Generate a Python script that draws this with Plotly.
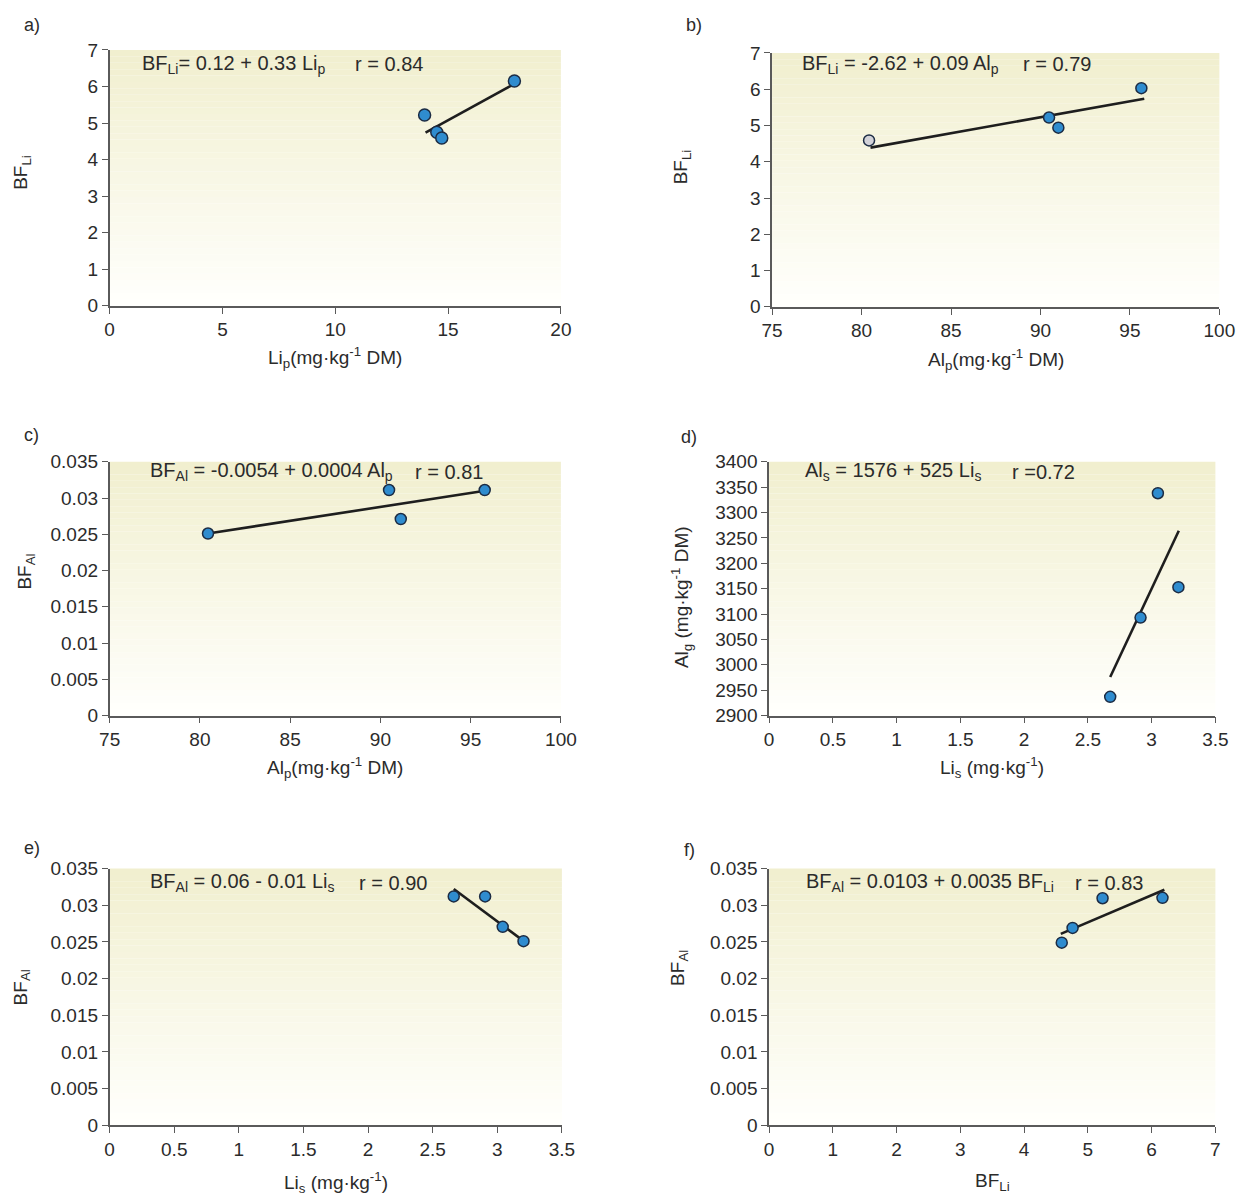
import plotly.graph_objects as go

W, H = 1242, 1196

# ---------------- data ----------------
# a) BF_Li vs Li_p
a_x = [13.96, 14.5, 14.72, 17.94]
a_y = [5.22, 4.75, 4.59, 6.15]
a_line_x = [14.0, 17.9]
a_line_y = [4.74, 6.06]

# b) BF_Li vs Al_p
b_x = [80.42, 90.48, 91.0, 95.64]
b_y = [4.59, 5.22, 4.94, 6.03]
b_line_x = [80.5, 95.8]
b_line_y = [4.39, 5.74]

# c) BF_Al vs Al_p
c_x = [80.45, 90.48, 91.13, 95.78]
c_y = [0.0251, 0.0311, 0.0271, 0.0311]
c_line_x = [80.45, 95.8]
c_line_y = [0.0251, 0.0310]

# d) Al_s vs Li_s
d_x = [2.675, 2.913, 3.049, 3.21]
d_y = [2937, 3093, 3338, 3153]
d_line_x = [2.675, 3.213]
d_line_y = [2976, 3264]

# e) BF_Al vs Li_s
e_x = [2.663, 2.906, 3.042, 3.203]
e_y = [0.0312, 0.0312, 0.02705, 0.0251]
e_line_x = [2.663, 3.22]
e_line_y = [0.0322, 0.0249]

# f) BF_Al vs BF_Li
f_x = [4.59, 4.76, 5.23, 6.17]
f_y = [0.0249, 0.0269, 0.03095, 0.031]
f_line_x = [4.575, 6.2]
f_line_y = [0.0261, 0.0321]

# ---------------- layout helpers ----------------
# reference pixel -> figure pixel (empirical correction), then -> paper fraction
SX, OX = 0.982, 9.0
SY, OY = 0.983, 10.0

def px(v):
    return ((v - OX) / SX) / W

def py(v):
    return 1 - ((v - OY) / SY) / H

panels = [
    dict(key="a", x=a_x, y=a_y, lx=a_line_x, ly=a_line_y, xr=[0, 20], yr=[0, 7],
         xp=(108, 561), yp=(50, 306), dtx=5, dty=1,
         eq="BF<sub>Li</sub>= 0.12 + 0.33 Li<sub>p</sub>", r="r = 0.84", eqx=0.068, rx=0.54, eqy=0.945,
         lab=(30, 25), yt="BF<sub>Li</sub>", ytp=(20, 172),
         xt="Li<sub>p</sub>(mg·kg<sup>-1</sup> DM)", xty=358, msize=12),
    dict(key="b", x=b_x, y=b_y, lx=b_line_x, ly=b_line_y, xr=[75, 100], yr=[0, 7],
         xp=(773, 1222), yp=(53, 307), dtx=5, dty=1,
         eq="BF<sub>Li</sub> = -2.62 + 0.09 Al<sub>p</sub>", r="r = 0.79", eqx=0.063, rx=0.556, eqy=0.955,
         lab=(695, 25), yt="BF<sub>Li</sub>", ytp=(682, 167),
         xt="Al<sub>p</sub>(mg·kg<sup>-1</sup> DM)", xty=360, msize=11),
    dict(key="c", x=c_x, y=c_y, lx=c_line_x, ly=c_line_y, xr=[75, 100], yr=[0, 0.035],
         xp=(108, 561), yp=(462, 716), dtx=5, dty=0.005,
         eq="BF<sub>Al</sub> = -0.0054 + 0.0004 Al<sub>p</sub>", r="r = 0.81", eqx=0.086, rx=0.672, eqy=0.96,
         lab=(30, 435), yt="BF<sub>Al</sub>", ytp=(24, 572),
         xt="Al<sub>p</sub>(mg·kg<sup>-1</sup> DM)", xty=768, msize=11),
    dict(key="d", x=d_x, y=d_y, lx=d_line_x, ly=d_line_y, xr=[0, 3.5], yr=[2900, 3400],
         xp=(770, 1218), yp=(462, 716), dtx=0.5, dty=50,
         eq="Al<sub>s</sub> = 1576 + 525 Li<sub>s</sub>", r="r =0.72", eqx=0.077, rx=0.54, eqy=0.96,
         lab=(690, 437), yt="Al<sub>g</sub> (mg·kg<sup>-1</sup> DM)", ytp=(682, 597),
         xt="Li<sub>s</sub> (mg·kg<sup>-1</sup>)", xty=768, msize=11),
    dict(key="e", x=e_x, y=e_y, lx=e_line_x, ly=e_line_y, xr=[0, 3.5], yr=[0, 0.035],
         xp=(108, 562), yp=(869, 1126), dtx=0.5, dty=0.005,
         eq="BF<sub>Al</sub> = 0.06 - 0.01 Li<sub>s</sub>", r="r = 0.90", eqx=0.084, rx=0.547, eqy=0.945,
         lab=(30, 848), yt="BF<sub>Al</sub>", ytp=(20, 988),
         xt="Li<sub>s</sub> (mg·kg<sup>-1</sup>)", xty=1183, msize=11),
    dict(key="f", x=f_x, y=f_y, lx=f_line_x, ly=f_line_y, xr=[0, 7], yr=[0, 0.035],
         xp=(770, 1218), yp=(869, 1126), dtx=1, dty=0.005,
         eq="BF<sub>Al</sub> = 0.0103 + 0.0035 BF<sub>Li</sub>", r="r = 0.83", eqx=0.078, rx=0.68, eqy=0.945,
         lab=(690, 850), yt="BF<sub>Al</sub>", ytp=(680, 968),
         xt="BF<sub>Li</sub>", xty=1183, msize=11),
]

FONT = "Liberation Sans, Arial, sans-serif"
TXT = "#2b2b2b"
AXC = "#5a5a5a"
BLUE = "#2f8ccf"
EDGE = "#1c2c44"
GRAY = "#d2d2d8"
TICKSZ = 19
EQSZ = 20
TITSZ = 19

fig = go.Figure()
layout = dict(
    width=W, height=H, autosize=False,
    margin=dict(l=0, r=0, t=0, b=0),
    paper_bgcolor="white", plot_bgcolor="white",
    showlegend=False,
    font=dict(family=FONT, color=TXT, size=TICKSZ),
)
shapes = []
annotations = []

TOP = (241, 239, 207)
BOT = (255, 255, 252)
NSTRIP = 40

for i, p in enumerate(panels):
    n = i + 1
    xa = "x" if n == 1 else f"x{n}"
    ya = "y" if n == 1 else f"y{n}"
    xkey = "xaxis" if n == 1 else f"xaxis{n}"
    ykey = "yaxis" if n == 1 else f"yaxis{n}"

    common = dict(showgrid=False, zeroline=False, showline=True, linecolor=AXC, linewidth=1.6,
                  ticks="outside", ticklen=6, tickwidth=1.4, tickcolor=AXC,
                  tickfont=dict(family=FONT, size=TICKSZ, color=TXT), fixedrange=True)
    layout[xkey] = dict(common, domain=[px(p["xp"][0]), px(p["xp"][1])], range=p["xr"],
                        anchor=ya, dtick=p["dtx"], tick0=p["xr"][0])
    layout[ykey] = dict(common, domain=[py(p["yp"][1]), py(p["yp"][0])], range=p["yr"],
                        anchor=xa, dtick=p["dty"], tick0=p["yr"][0])

    # gradient background
    for k in range(NSTRIP):
        t = k / (NSTRIP - 1)
        c = tuple(int(round(BOT[j] + (TOP[j] - BOT[j]) * t)) for j in range(3))
        shapes.append(dict(type="rect", xref=f"{xa} domain", yref=f"{ya} domain",
                           x0=0, x1=1, y0=k / NSTRIP, y1=(k + 1) / NSTRIP,
                           fillcolor=f"rgb{c}", line=dict(width=0), layer="below"))

    # trend line
    fig.add_trace(go.Scatter(x=p["lx"], y=p["ly"], mode="lines", xaxis=xa, yaxis=ya,
                             line=dict(color="#1e1e1e", width=2.6), hoverinfo="skip"))
    # points
    colors = [BLUE] * len(p["x"])
    if p["key"] == "b":
        colors[0] = GRAY
    fig.add_trace(go.Scatter(x=p["x"], y=p["y"], mode="markers", xaxis=xa, yaxis=ya,
                             marker=dict(size=p["msize"], color=colors,
                                         line=dict(color=EDGE, width=1.5))))

    # equation & r
    annotations.append(dict(text=p["eq"], xref=f"{xa} domain", yref=f"{ya} domain",
                            x=p["eqx"], y=p["eqy"], xanchor="left", yanchor="middle",
                            showarrow=False, font=dict(family=FONT, size=EQSZ, color=TXT)))
    annotations.append(dict(text=p["r"], xref=f"{xa} domain", yref=f"{ya} domain",
                            x=p["rx"], y=p["eqy"], xanchor="left", yanchor="middle",
                            showarrow=False, font=dict(family=FONT, size=EQSZ, color=TXT)))
    # panel label
    annotations.append(dict(text=p["key"] + ")", xref="paper", yref="paper",
                            x=px(p["lab"][0]), y=py(p["lab"][1]), xanchor="center", yanchor="middle",
                            showarrow=False, font=dict(family=FONT, size=18, color=TXT)))
    # y title
    annotations.append(dict(text=p["yt"], xref="paper", yref="paper", textangle=-90,
                            x=px(p["ytp"][0]), y=py(p["ytp"][1]), xanchor="center", yanchor="middle",
                            showarrow=False, font=dict(family=FONT, size=TITSZ, color=TXT)))
    # x title
    annotations.append(dict(text=p["xt"], xref=f"{xa} domain", yref="paper",
                            x=0.5, y=py(p["xty"]), xanchor="center", yanchor="middle",
                            showarrow=False, font=dict(family=FONT, size=TITSZ, color=TXT)))

layout["shapes"] = shapes
layout["annotations"] = annotations
fig.update_layout(**layout)
fig.write_html(
    "out.html",
    config={"displayModeBar": False},
    post_script="document.documentElement.style.margin='0';document.body.style.margin='0';"
                "document.body.style.padding='0';document.body.style.overflow='hidden';",
)
